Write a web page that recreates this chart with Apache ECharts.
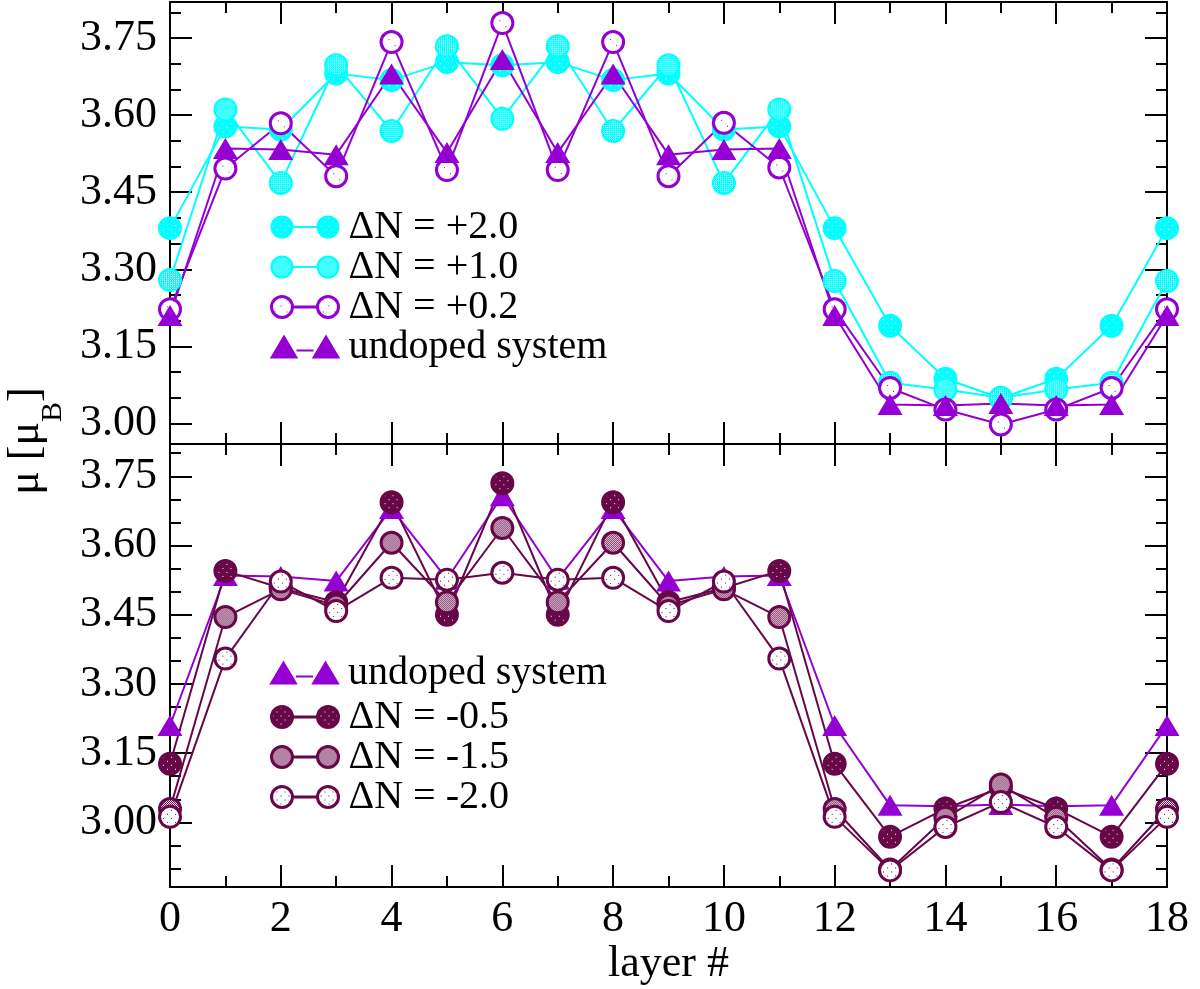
<!DOCTYPE html>
<html>
<head>
<meta charset="utf-8">
<script src="https://cdn.jsdelivr.net/npm/echarts@6/dist/echarts.min.js"></script>
<style>
  html, body { margin: 0; padding: 0; background: #fff; }
  #chart { width: 1200px; height: 989px; }
</style>
</head>
<body>
<div id="chart"></div>
<script>
// layer index
var layers = [0, 1, 2, 3, 4, 5, 6, 7, 8, 9, 10, 11, 12, 13, 14, 15, 16, 17, 18];

// top panel (electron doping)
var dnP20 = [3.380, 3.578, 3.572, 3.681, 3.668, 3.703, 3.697, 3.703, 3.668, 3.681, 3.572, 3.578, 3.380, 3.190, 3.087, 3.049, 3.087, 3.190, 3.380];
var dnP10 = [3.279, 3.611, 3.468, 3.697, 3.569, 3.734, 3.593, 3.734, 3.569, 3.697, 3.468, 3.611, 3.277, 3.079, 3.066, 3.050, 3.066, 3.079, 3.277];
var dnP02 = [3.222, 3.496, 3.584, 3.481, 3.742, 3.493, 3.779, 3.493, 3.742, 3.481, 3.585, 3.498, 3.222, 3.069, 3.027, 2.998, 3.027, 3.069, 3.222];
var undoped = [3.210, 3.535, 3.533, 3.523, 3.680, 3.527, 3.708, 3.527, 3.680, 3.523, 3.533, 3.535, 3.210, 3.037, 3.035, 3.039, 3.035, 3.037, 3.210];

// bottom panel (hole doping)
var dnM05 = [3.127, 3.545, 3.508, 3.477, 3.694, 3.450, 3.735, 3.450, 3.694, 3.477, 3.508, 3.545, 3.127, 2.969, 3.030, 3.075, 3.030, 2.969, 3.127];
var dnM15 = [3.029, 3.445, 3.505, 3.470, 3.606, 3.477, 3.638, 3.477, 3.606, 3.470, 3.505, 3.445, 3.029, 2.898, 3.010, 3.082, 3.010, 2.898, 3.029];
var dnM20 = [3.012, 3.355, 3.522, 3.458, 3.530, 3.526, 3.541, 3.526, 3.530, 3.458, 3.522, 3.355, 3.012, 2.896, 2.990, 3.044, 2.990, 2.896, 3.012];

// ticks
var yMajor = [3.00, 3.15, 3.30, 3.45, 3.60, 3.75];
var yMinorTop = [3.05, 3.10, 3.20, 3.25, 3.35, 3.40, 3.50, 3.55, 3.65, 3.70, 3.80];
var yMinorBottom = [2.90, 2.95, 3.05, 3.10, 3.20, 3.25, 3.35, 3.40, 3.50, 3.55, 3.65, 3.70, 3.80];

var CYAN = "#00ffff";
var VIOLET = "#9400d3";
var MAROON = "#670748";
var FONT = "Liberation Serif";

// small bitmap fills (grace style patterns)
function tile(bg, fg, size, pts) {
    var c = document.createElement("canvas");
    c.width = size;
    c.height = size;
    var g = c.getContext("2d");
    g.fillStyle = bg;
    g.fillRect(0, 0, size, size);
    g.fillStyle = fg;
    for (var i = 0; i < pts.length; i++) {
        g.fillRect(pts[i][0], pts[i][1], 1, 1);
    }
    return c;
}

// symbols are drawn at unit size and scaled, so the pattern must be scaled back
function pattern(img, symSize) {
    var p = { image: img, repeat: "repeat" };
    if (symSize) {
        p.scaleX = 2 / symSize;
        p.scaleY = 2 / symSize;
    }
    return p;
}

var dots = [[1, 1], [5, 5]];
var checker = [[0, 0], [1, 1]];
var tP20 = tile(CYAN, "#ffffff", 8, dots);
var tP10 = tile(CYAN, "#ffffff", 2, [[0, 0]]);
var tP02 = tile("#ffffff", VIOLET, 12, [[3, 3], [9, 9]]);
var tM05 = tile(MAROON, "#ffffff", 8, dots);
var tM15 = tile(MAROON, "#ffffff", 2, checker);
var tM20 = tile("#ffffff", MAROON, 8, dots);

var ICON_CIRC = "path://M0,10.5 A10.5,10.5 0 1 1 21,10.5 A10.5,10.5 0 1 1 0,10.5 Z M46,10.5 A10.5,10.5 0 1 1 67,10.5 A10.5,10.5 0 1 1 46,10.5 Z M21,10.5 L46,10.5";
var ICON_TRI = "path://M0,21 L12.5,0 L25,21 Z M42,21 L54.5,0 L67,21 Z M25,14 L42,14";

function pairs(ys) {
    var out = [];
    for (var i = 0; i < layers.length; i++) {
        out.push([layers[i], ys[i]]);
    }
    return out;
}

function xAx(grid, pos, labels) {
    return {
        type: "value", gridIndex: grid, position: pos, min: 0, max: 18, interval: 2,
        axisLine: { show: true, onZero: false, lineStyle: { color: "#000", width: 2 } },
        axisTick: { show: true, inside: true, length: 22, lineStyle: { color: "#000", width: 2 } },
        minorTick: { show: true, splitNumber: 2, length: 11, lineStyle: { color: "#000", width: 2 } },
        splitLine: { show: false },
        minorSplitLine: { show: false },
        axisLabel: { show: labels, color: "#000", fontFamily: FONT, fontSize: 44, margin: 10 }
    };
}

function yAx(grid, pos, min, ticks, len, major, labels) {
    return {
        type: "value", gridIndex: grid, position: pos, min: min, max: 3.82,
        axisLine: { show: major, onZero: false, lineStyle: { color: "#000", width: 2 } },
        axisTick: { show: true, inside: true, length: len, customValues: ticks, lineStyle: { color: "#000", width: 2 } },
        splitLine: { show: false },
        axisLabel: {
            show: labels, customValues: ticks, color: "#000", fontFamily: FONT, fontSize: 44, margin: 13,
            formatter: function (v) { return v.toFixed(2); }
        }
    };
}

function circleSeries(name, ys, xi, yi, img, color, bw) {
    var size = 24 - bw;
    return {
        name: name, type: "line", xAxisIndex: xi, yAxisIndex: yi, data: pairs(ys),
        symbol: "circle", symbolSize: size,
        lineStyle: { color: color, width: 2 },
        itemStyle: { color: pattern(img, size), borderColor: color, borderWidth: bw },
        emphasis: { disabled: true }
    };
}

function triSeries(name, ys, xi, yi) {
    return {
        name: name, type: "line", xAxisIndex: xi, yAxisIndex: yi, data: pairs(ys),
        symbol: "triangle", symbolSize: [25, 21],
        lineStyle: { color: VIOLET, width: 2 },
        itemStyle: { color: VIOLET, borderWidth: 0 },
        emphasis: { disabled: true }
    };
}

function legendItem(name, icon, fill, color, bw) {
    return { name: name, icon: icon, itemStyle: { color: fill, borderColor: color, borderWidth: bw } };
}

function legend(top, items) {
    return {
        orient: "vertical", left: 270, top: top, padding: 0, itemGap: 0,
        itemWidth: 67, itemHeight: 21, selectedMode: false,
        textStyle: { color: "#000", fontFamily: FONT, fontSize: 40, lineHeight: 38, padding: [0, 0, 0, 5] },
        data: items
    };
}

var chart = echarts.init(document.getElementById("chart"), null, { renderer: "canvas" });

var option = {
    animation: false,
    backgroundColor: "#fff",
    grid: [
        { left: 170, width: 997, top: 2, height: 442 },
        { left: 170, width: 997, top: 444, height: 443 }
    ],
    xAxis: [
        xAx(0, "bottom", false),
        xAx(0, "top", false),
        Object.assign(xAx(1, "bottom", true), {
            name: "layer #", nameLocation: "middle", nameGap: 55,
            nameTextStyle: { color: "#000", fontFamily: FONT, fontSize: 44 }
        }),
        xAx(1, "top", false)
    ],
    yAxis: [
        yAx(0, "left", 2.96, yMajor, 22, true, true),
        yAx(0, "left", 2.96, yMinorTop, 11, false, false),
        yAx(0, "right", 2.96, yMajor, 22, true, false),
        yAx(0, "right", 2.96, yMinorTop, 11, false, false),
        yAx(1, "left", 2.86, yMajor, 22, true, true),
        yAx(1, "left", 2.86, yMinorBottom, 11, false, false),
        yAx(1, "right", 2.86, yMajor, 22, true, false),
        yAx(1, "right", 2.86, yMinorBottom, 11, false, false)
    ],
    legend: [
        legend(207, [
            legendItem("ΔN = +2.0", ICON_CIRC, pattern(tP20), CYAN, 2),
            legendItem("ΔN = +1.0", ICON_CIRC, pattern(tP10), CYAN, 2),
            legendItem("ΔN = +0.2", ICON_CIRC, pattern(tP02), VIOLET, 3),
            legendItem("undoped system", ICON_TRI, VIOLET, VIOLET, 2)
        ]),
        legend(653, [
            legendItem("undoped system", ICON_TRI, VIOLET, VIOLET, 2)
        ]),
        legend(697, [
            legendItem("ΔN = -0.5", ICON_CIRC, pattern(tM05), MAROON, 3),
            legendItem("ΔN = -1.5", ICON_CIRC, pattern(tM15), MAROON, 3),
            legendItem("ΔN = -2.0", ICON_CIRC, pattern(tM20), MAROON, 3)
        ])
    ],
    graphic: [{
        type: "text", x: 36, y: 441, rotation: Math.PI / 2,
        style: {
            text: "{m|μ [μ}{s|B}{m|]}",
            align: "center", verticalAlign: "middle",
            rich: {
                m: { fontFamily: FONT, fontSize: 44, lineHeight: 44, fill: "#000", verticalAlign: "top" },
                s: { fontFamily: FONT, fontSize: 30, lineHeight: 64, fill: "#000", verticalAlign: "bottom" }
            }
        }
    }],
    series: [
        circleSeries("ΔN = +2.0", dnP20, 0, 0, tP20, CYAN, 2),
        circleSeries("ΔN = +1.0", dnP10, 0, 0, tP10, CYAN, 2),
        circleSeries("ΔN = +0.2", dnP02, 0, 0, tP02, VIOLET, 3),
        triSeries("undoped system", undoped, 0, 0),
        triSeries("undoped system", undoped, 2, 4),
        circleSeries("ΔN = -0.5", dnM05, 2, 4, tM05, MAROON, 3),
        circleSeries("ΔN = -1.5", dnM15, 2, 4, tM15, MAROON, 3),
        circleSeries("ΔN = -2.0", dnM20, 2, 4, tM20, MAROON, 3)
    ]
};

chart.setOption(option);
</script>
</body>
</html>
